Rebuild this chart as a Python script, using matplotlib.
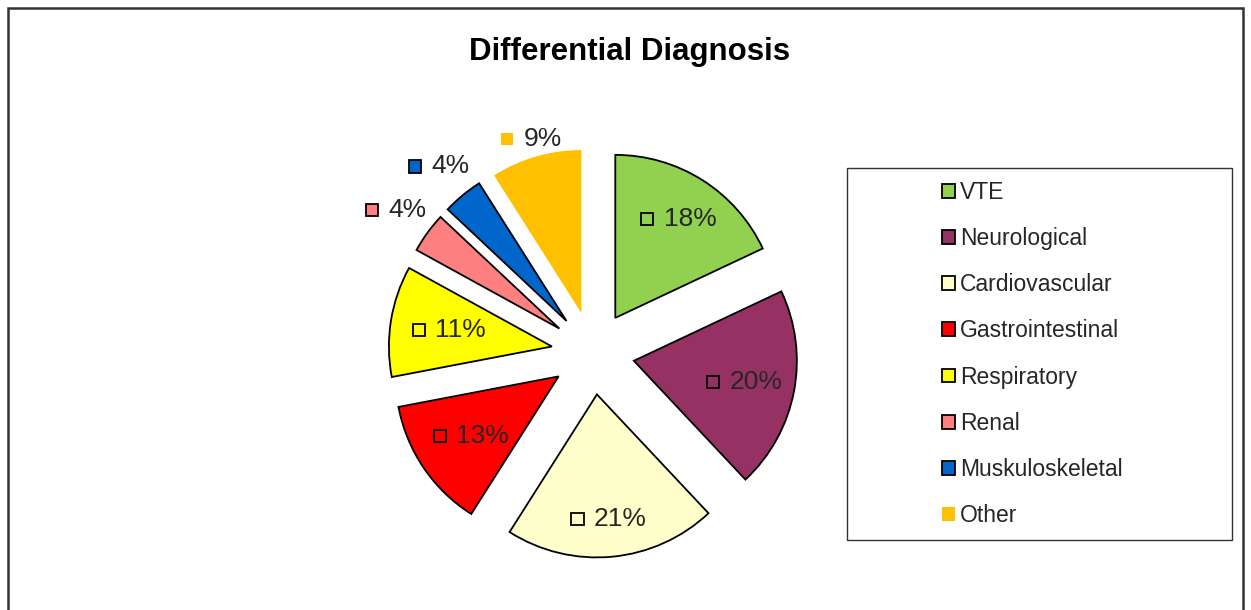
import matplotlib
matplotlib.use('Agg')
import matplotlib.pyplot as plt
import numpy as np
from matplotlib.patches import Rectangle, Patch
from matplotlib.offsetbox import AnnotationBbox, HPacker, DrawingArea, TextArea

plt.rcParams['font.family'] = ['Liberation Sans', 'DejaVu Sans']

# data
categories = ['VTE', 'Neurological', 'Cardiovascular', 'Gastrointestinal',
              'Respiratory', 'Renal', 'Muskuloskeletal', 'Other']
shares = [18, 20, 21, 13, 11, 4, 4, 9]
colours = ['#92D050', '#953163', '#FFFFCC', '#FF0000',
           '#FFFF00', '#FF8080', '#0066CC', '#FFC000']

# where each percentage label sits, in radii from the wedge tip
label_dist = [0.72, 0.69, 0.77, 0.65, 0.64, 1.24, 1.23, 1.11]

W, H = 1251, 610
fig = plt.figure(figsize=(W / 100, H / 100), dpi=100)
ax = fig.add_axes([0, 0, 1, 1])

r = 163
wedges, _ = ax.pie(shares, colors=colours, startangle=90, counterclock=False,
                   explode=[41.6] * len(shares), radius=r, center=(593, 257),
                   wedgeprops=dict(edgecolor='black', linewidth=1.3))
wedges[-1].set_edgecolor('none')   # "Other" has no outline

ax.set_xlim(0, W)
ax.set_ylim(0, H)
ax.set_aspect('equal')
ax.axis('off')

txt_col = '#262626'

# percentage labels with a little legend key in front
for w, s, c, d in zip(wedges, shares, colours, label_dist):
    mid = np.deg2rad((w.theta1 + w.theta2) / 2)
    cx, cy = w.center
    x = cx + d * w.r * np.cos(mid)
    y = cy + d * w.r * np.sin(mid)
    da = DrawingArea(10, 10)
    da.add_artist(Rectangle((0.6, 0.6), 8.8, 8.8, facecolor=c,
                            edgecolor=w.get_edgecolor(), lw=1.3))
    ta = TextArea(f'{s}%', textprops=dict(fontsize=19, color=txt_col))
    box = HPacker(children=[da, ta], align='center', pad=0, sep=7)
    ab = AnnotationBbox(box, (x, y), frameon=False, box_alignment=(0.5, 0.5))
    ax.add_artist(ab)

# legend
handles = [Patch(facecolor=c, edgecolor=w.get_edgecolor(), linewidth=1.3)
           for c, w in zip(colours, wedges)]
leg = fig.legend(handles, categories, loc='upper left',
                 bbox_to_anchor=(942 / W, 1 - 181 / H), frameon=False,
                 fontsize=16.5, handlelength=0.55, handleheight=0.55,
                 handletextpad=0.25, labelspacing=1.01,
                 borderpad=0, borderaxespad=0)
for t in leg.get_texts():
    t.set_color(txt_col)

fig.add_artist(Rectangle((847 / W, 1 - 540 / H), (1232 - 847) / W, (540 - 168) / H,
                         transform=fig.transFigure, fill=False,
                         edgecolor='#333333', lw=1))

# outer chart border (bottom runs off the picture)
fig.add_artist(Rectangle((8 / W, -0.1), (1243 - 8) / W, 1.1 - 8 / H,
                         transform=fig.transFigure, fill=False,
                         edgecolor='#333333', lw=1.8))

fig.text(630 / W, 1 - 52 / H, 'Differential Diagnosis', ha='center', va='center',
         fontsize=22.5, fontweight='bold', color='black')

fig.savefig('out.png', dpi=100)
